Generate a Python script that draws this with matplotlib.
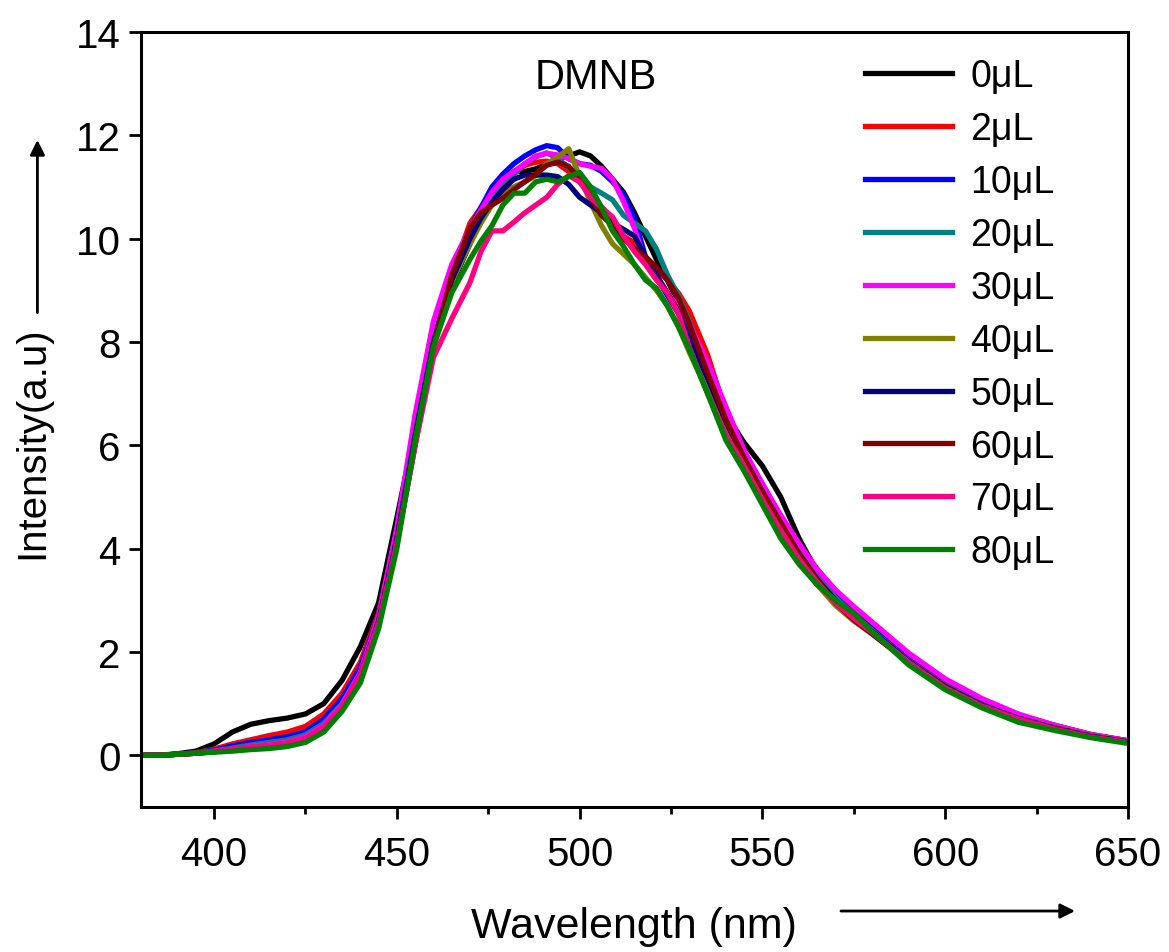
import numpy as np
import matplotlib
matplotlib.use('Agg')
import matplotlib.pyplot as plt
from matplotlib.ticker import MultipleLocator

plt.rcParams['font.family'] = ['Liberation Sans', 'DejaVu Sans']

# wavelength grid (nm)
wavelength = [380, 385, 390, 395, 400, 405, 410, 415, 420, 425, 430, 435, 440, 445, 450, 455, 460, 465, 470,
              473, 476, 479, 482, 485, 488, 491, 494, 497, 500, 503, 506, 509, 512, 515, 518, 521, 524, 527,
              530, 535, 540, 545, 550, 555, 560, 565, 570, 575, 580, 590, 600, 610, 620, 630, 640, 650]

labels = ['0μL', '2μL', '10μL', '20μL', '30μL', '40μL', '50μL', '60μL', '70μL', '80μL']
colors = ['#000000', '#ff0000', '#0000ff', '#008080', '#ff00ff', '#808000', '#000080', '#800000', '#ff0080', '#008000']

i_0 = [0.0, 0.0, 0.03, 0.08, 0.22, 0.45, 0.6, 0.67, 0.72, 0.8, 1.0, 1.45, 2.1, 2.95, 4.6, 6.3, 8.0, 9.1, 9.9,
       10.4, 10.9, 11.15, 11.3, 11.3, 11.35, 11.45, 11.55, 11.6, 11.68, 11.6, 11.4, 11.15, 10.9, 10.5, 10.05, 9.6, 9.2, 8.75,
       8.15, 7.3, 6.6, 6.05, 5.6, 5.0, 4.2, 3.55, 3.05, 2.75, 2.45, 1.85, 1.38, 1.02, 0.78, 0.58, 0.4, 0.28]
i_2 = [0.0, 0.0, 0.02, 0.05, 0.12, 0.22, 0.3, 0.38, 0.45, 0.56, 0.8, 1.2, 1.8, 2.75, 4.3, 6.2, 8.0, 9.3, 10.3,
       10.6, 10.85, 11.05, 11.25, 11.42, 11.48, 11.5, 11.45, 11.3, 11.1, 10.88, 10.62, 10.35, 10.05, 9.92, 9.65, 9.4, 9.2, 8.95,
       8.6, 7.75, 6.65, 5.85, 5.2, 4.55, 4.05, 3.6, 3.15, 2.8, 2.5, 1.9, 1.4, 1.05, 0.78, 0.57, 0.4, 0.28]
i_10 = [0.0, 0.0, 0.02, 0.05, 0.1, 0.18, 0.25, 0.3, 0.36, 0.46, 0.7, 1.1, 1.7, 2.7, 4.3, 6.2, 8.0, 9.3, 10.2,
        10.6, 11.0, 11.25, 11.45, 11.6, 11.72, 11.8, 11.76, 11.55, 11.45, 11.42, 11.3, 11.1, 10.85, 10.4, 9.65, 9.25, 8.9, 8.55,
        8.15, 7.35, 6.55, 5.85, 5.25, 4.6, 4.0, 3.5, 3.1, 2.75, 2.45, 1.85, 1.35, 1.0, 0.75, 0.55, 0.38, 0.27]
i_20 = [0.0, 0.0, 0.02, 0.04, 0.08, 0.14, 0.2, 0.25, 0.3, 0.4, 0.62, 1.0, 1.6, 2.6, 4.2, 6.2, 8.0, 9.2, 10.0,
        10.45, 10.85, 11.1, 11.25, 11.45, 11.58, 11.66, 11.55, 11.38, 11.2, 11.0, 10.88, 10.75, 10.45, 10.3, 10.15, 9.8, 9.3, 8.9,
        8.4, 7.45, 6.55, 5.8, 5.15, 4.5, 3.95, 3.45, 3.05, 2.72, 2.42, 1.83, 1.35, 1.0, 0.74, 0.54, 0.38, 0.27]
i_30 = [0.0, 0.0, 0.02, 0.04, 0.08, 0.12, 0.17, 0.21, 0.26, 0.36, 0.58, 0.98, 1.6, 2.7, 4.4, 6.6, 8.4, 9.5, 10.2,
        10.55, 10.9, 11.15, 11.3, 11.45, 11.6, 11.65, 11.62, 11.55, 11.45, 11.4, 11.36, 11.15, 10.72, 10.2, 9.55, 9.25, 8.95, 8.68,
        8.35, 7.6, 6.75, 5.9, 5.25, 4.65, 4.1, 3.6, 3.2, 2.88, 2.58, 1.98, 1.48, 1.1, 0.8, 0.58, 0.4, 0.28]
i_40 = [0.0, 0.0, 0.02, 0.04, 0.07, 0.1, 0.14, 0.17, 0.22, 0.3, 0.5, 0.9, 1.5, 2.55, 4.1, 6.2, 8.0, 9.15, 9.9,
        10.3, 10.65, 10.9, 11.0, 11.1, 11.22, 11.45, 11.58, 11.74, 11.2, 10.7, 10.25, 9.9, 9.7, 9.5, 9.25, 9.0, 8.7, 8.3,
        7.8, 7.05, 6.3, 5.55, 4.9, 4.3, 3.75, 3.3, 2.9, 2.6, 2.35, 1.8, 1.3, 0.95, 0.7, 0.5, 0.36, 0.25]
i_50 = [0.0, 0.0, 0.02, 0.04, 0.07, 0.11, 0.15, 0.18, 0.23, 0.32, 0.52, 0.92, 1.55, 2.6, 4.2, 6.2, 8.0, 9.2, 10.0,
        10.4, 10.7, 10.95, 11.15, 11.23, 11.23, 11.23, 11.2, 11.05, 10.8, 10.65, 10.5, 10.3, 10.18, 10.05, 9.65, 9.3, 8.95, 8.6,
        8.05, 7.3, 6.45, 5.75, 5.1, 4.5, 3.9, 3.4, 3.0, 2.68, 2.4, 1.82, 1.33, 0.98, 0.72, 0.53, 0.37, 0.26]
i_60 = [0.0, 0.0, 0.02, 0.04, 0.07, 0.1, 0.14, 0.17, 0.21, 0.3, 0.5, 0.9, 1.5, 2.55, 4.1, 6.0, 7.9, 9.3, 10.2,
        10.5, 10.65, 10.78, 10.95, 11.1, 11.25, 11.42, 11.48, 11.4, 11.16, 10.8, 10.45, 10.25, 10.0, 9.8, 9.65, 9.45, 9.2, 8.85,
        8.35, 7.4, 6.5, 5.75, 5.1, 4.5, 3.9, 3.4, 2.95, 2.62, 2.35, 1.8, 1.32, 0.96, 0.7, 0.52, 0.36, 0.25]
i_70 = [0.0, 0.0, 0.02, 0.04, 0.08, 0.12, 0.16, 0.19, 0.24, 0.33, 0.54, 0.94, 1.55, 2.55, 4.1, 6.0, 7.7, 8.45, 9.15,
        9.75, 10.15, 10.15, 10.32, 10.5, 10.65, 10.8, 11.05, 11.22, 11.1, 10.8, 10.6, 10.42, 10.05, 9.75, 9.5, 9.2, 8.95, 8.55,
        7.9, 7.0, 6.2, 5.6, 4.95, 4.35, 3.8, 3.35, 2.95, 2.65, 2.38, 1.8, 1.3, 0.95, 0.7, 0.5, 0.35, 0.25]
i_80 = [0.0, 0.0, 0.02, 0.04, 0.06, 0.08, 0.11, 0.13, 0.17, 0.25, 0.45, 0.85, 1.4, 2.45, 4.0, 6.1, 7.9, 8.95, 9.6,
        9.95, 10.25, 10.65, 10.88, 10.88, 11.1, 11.15, 11.1, 11.2, 11.28, 11.0, 10.6, 10.15, 9.85, 9.5, 9.2, 9.04, 8.7, 8.3,
        7.85, 7.0, 6.1, 5.5, 4.85, 4.2, 3.7, 3.3, 3.0, 2.75, 2.4, 1.75, 1.27, 0.92, 0.64, 0.48, 0.34, 0.23]

series = [i_0, i_2, i_10, i_20, i_30, i_40, i_50, i_60, i_70, i_80]

fig = plt.figure(figsize=(11.69, 9.53), dpi=100)
ax = fig.add_axes([0.1206, 0.1522, 0.8443, 0.8132])

for y, lab, c in zip(series, labels, colors):
    ax.plot(wavelength, y, color=c, lw=3.8, label=lab, solid_joinstyle='round')

ax.set_xlim(380, 650)
ax.set_ylim(-1, 14)
ax.xaxis.set_major_locator(MultipleLocator(50))
ax.xaxis.set_minor_locator(MultipleLocator(25))
ax.yaxis.set_major_locator(MultipleLocator(2))
ax.tick_params(axis='both', which='major', direction='out', length=8.5, width=2, labelsize=29)
ax.tick_params(axis='x', which='major', pad=12)
ax.tick_params(axis='y', which='major', pad=6)
ax.tick_params(axis='x', which='minor', direction='out', length=5, width=2)
for s in ax.spines.values():
    s.set_linewidth(2.2)

ax.text(0.461, 0.942, 'DMNB', transform=ax.transAxes, ha='center', va='center', fontsize=30)

ax.legend(loc='upper left', bbox_to_anchor=(0.715, 0.99), frameon=False, fontsize=27,
          handlelength=2.3, handletextpad=0.5, labelspacing=0.45, borderpad=0)

# axis labels with arrows
fig.text(0.028, 0.535, 'Intensity(a.u)', rotation=90, ha='center', va='center', fontsize=29)
ax.annotate('', xy=(0.032, 0.855), xytext=(0.032, 0.668), xycoords='figure fraction',
            arrowprops=dict(arrowstyle='-|>', lw=2, color='black', mutation_scale=22))
fig.text(0.542, 0.027, 'Wavelength (nm)', ha='center', va='center', fontsize=31)
ax.annotate('', xy=(0.922, 0.043), xytext=(0.717, 0.043), xycoords='figure fraction',
            arrowprops=dict(arrowstyle='-|>', lw=2, color='black', mutation_scale=22))

plt.savefig('out.png', dpi=100)
print('Saved out.png')
